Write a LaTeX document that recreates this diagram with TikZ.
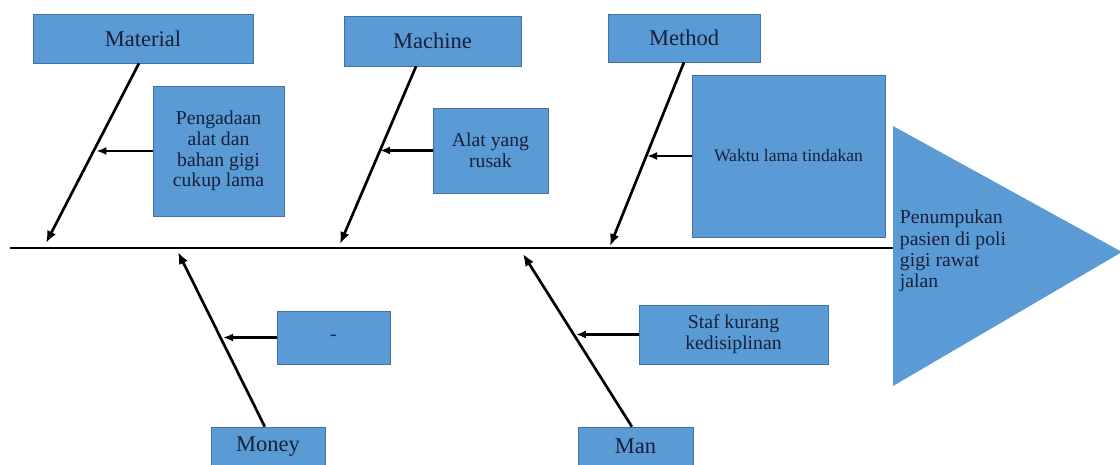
\documentclass[tikz,border=0pt]{standalone}
\usepackage{fontspec}
\setmainfont{Liberation Serif}
\usetikzlibrary{calc, arrows.meta}

\definecolor{boxfill}{RGB}{91,155,213}
\definecolor{boxline}{RGB}{65,113,156}
\definecolor{boxtext}{RGB}{22,32,58}

\tikzset{
  catbox/.style={draw=boxline, fill=boxfill, text=boxtext, font=\fontsize{16}{18}\selectfont},
  causebox/.style={draw=boxline, fill=boxfill, text=boxtext, align=center, font=\fontsize{14}{14.8}\selectfont},
  bone/.style={line width=1.9pt, -{Latex[length=3mm, width=2.4mm]}},
  twig/.style={line width=1.7pt, -{Latex[length=2.5mm, width=2mm]}},
}

\begin{document}
\begin{tikzpicture}[x=0.025cm, y=-0.025cm]
            \useasboundingbox (0,0) rectangle (1120,465);
            % head of the fish
            \fill[boxfill] (893,126) -- (1122,252) -- (893,386) -- cycle;
            \node[anchor=west, align=left, text=boxtext, font=\fontsize{14}{15.2}\selectfont] (effect) at (895,251)
                {Penumpukan\\pasien di poli\\gigi rawat\\jalan};
            \coordinate (spineL) at (10,248); \coordinate (spineR) at (893,248);
            \draw[line width=1.2pt] (spineL) -- (spineR);

            % top categories
            \node[catbox, minimum width=5.5cm, minimum height=1.225cm] (mat) at (143,38.5) {Material};
            \node[catbox, minimum width=4.425cm, minimum height=1.25cm] (mac) at (432.5,41) {Machine};
            \node[catbox, minimum width=3.8cm, minimum height=1.2cm] (met) at (684,38) {Method};
            \coordinate (matHead) at (46,243); \coordinate (macHead) at (340,244); \coordinate (metHead) at (610,246);
            \draw[bone] ([xshift=-0.1cm]mat.south) -- (matHead);
            \draw[bone] ([xshift=-0.41cm]mac.south) -- (macHead);
            \draw[bone] (met.south) -- (metHead);

            % bottom categories
            \node[catbox, minimum width=2.85cm, minimum height=0.975cm] (mon) at (268,446.5) {Money};
            \node[catbox, minimum width=2.875cm, minimum height=0.975cm] (man) at (635.5,446.5) {Man};
            \coordinate (monHead) at (178,252); \coordinate (manHead) at (523,254);
            \draw[bone] ([xshift=-0.08cm]mon.north) -- (monHead);
            \draw[bone] ([xshift=-0.09cm]man.north) -- (manHead);

            % causes
            \node[causebox, minimum width=3.275cm, minimum height=3.25cm] (peng) at (218.5,151)
                {Pengadaan\\alat dan\\bahan gigi\\cukup lama};
            \node[causebox, minimum width=2.875cm, minimum height=2.125cm] (alat) at (490.5,150.5)
                {Alat yang\\rusak};
            \node[causebox, minimum width=4.825cm, minimum height=4.05cm, font=\fontsize{12.5}{14}\selectfont] (waktu) at (788.5,156)
                {Waktu lama tindakan};
            \node[causebox, minimum width=2.825cm, minimum height=1.325cm] (uang) at (333.5,337.5) {-};
            \node[causebox, minimum width=4.725cm, minimum height=1.475cm] (staf) at (733.5,334.5)
                {Staf kurang\\kedisiplinan};

            \coordinate (pengHit) at ($(mat.south)!0.48!(matHead)$);
            \coordinate (alatHit) at ($(mac.south)!0.48!(macHead)$);
            \coordinate (waktuHit) at ($(met.south)!0.5!(metHead)$);
            \coordinate (uangHit) at ($(mon.north)!0.5!(monHead)$);
            \coordinate (stafHit) at ($(man.north)!0.53!(manHead)$);
            \draw[twig] (peng.west) -- (peng.west -| pengHit);
            \draw[twig] (alat.west) -- ([xshift=-0.2cm]alat.west -| alatHit);
            \draw[twig] (waktu.west) -- (waktu.west -| waktuHit);
            \draw[twig] (uang.west) -- (uang.west -| uangHit);
            \draw[twig] (staf.west) -- (staf.west -| stafHit);
        \end{tikzpicture}
\end{document}
